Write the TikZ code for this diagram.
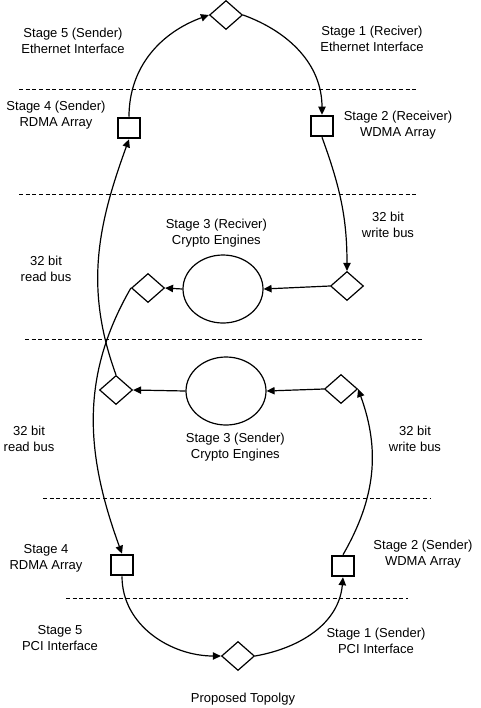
\documentclass[tikz,border=0pt]{standalone}
\usepackage{fontspec}
\setmainfont{Liberation Sans}
\usetikzlibrary{positioning,shapes.geometric,arrows.meta}

\begin{document}
\begin{tikzpicture}[
        x=0.75pt, y=-0.75pt,
        >={Triangle[length=6pt,width=5.5pt]},
        port/.style={diamond, draw, line width=0.9pt, inner sep=0pt, minimum width=24.75pt, minimum height=21.75pt},
        dma/.style={rectangle, draw, line width=1.4pt, inner sep=0pt, minimum width=16.5pt, minimum height=15.5pt},
        engine/.style={ellipse, draw, line width=0.9pt, inner sep=0pt, minimum width=60pt, minimum height=51pt},
        stagetext/.style={font=\fontsize{9.75}{12}\selectfont, align=center},
        bus/.style={->, line width=0.9pt},
        divider/.style={line width=0.7pt, dash pattern=on 3pt off 2pt}
    ]
        \useasboundingbox (0,0) rectangle (480,708);

        % Stage boundaries
        \foreach \y/\a/\b in {89/19/418, 194/19/418, 339/25/423, 498/43/430, 598/66/408}
            \draw[divider] (\a,\y) -- (\b,\y);

        % Receiver side
        \node[port] (ethTop) at (226,15) {};
        \node[dma] (rdmaS) at (129,128) {};
        \node[dma] (wdmaR) at (322,126) {};
        \node[port] (inR) at (347,286) {};
        \node[engine] (cryptoR) at (223,289) {};
        \node[port] (outR) at (148,288) {};

        % Sender side
        \node[port] (outS) at (116,390) {};
        \node[engine] (cryptoS) at (226,391) {};
        \node[port] (inS) at (341,389) {};
        \node[dma] (rdmaB) at (122,565) {};
        \node[dma] (wdmaS) at (343,566) {};
        \node[port] (pciB) at (238,656) {};

        % Labels
        \node[stagetext] (lblEthS) at (73,41) {Stage 5 (Sender)\\Ethernet Interface};
        \node[stagetext] (lblEthR) at (372,39) {Stage 1 (Reciver)\\Ethernet Interface};
        \node[stagetext] (lblRdmaS) at (56,115) {Stage 4 (Sender)\\RDMA Array};
        \node[stagetext] (lblWdmaR) at (398,125) {Stage 2 (Receiver)\\WDMA Array};
        \node[stagetext] (lblWrR) at (388,225) {32 bit\\write bus};
        \node[stagetext, above=2pt of cryptoR, xshift=-5pt] (lblCryR) {Stage 3 (Reciver)\\Crypto Engines};
        \node[stagetext] (lblRdR) at (46,269) {32 bit\\read bus};
        \node[stagetext, below=2pt of cryptoS, xshift=7pt] (lblCryS) {Stage 3 (Sender)\\Crypto Engines};
        \node[stagetext] (lblRdS) at (29,439) {32 bit\\read bus};
        \node[stagetext] (lblWrS) at (415,439) {32 bit\\write bus};
        \node[stagetext] (lblRdmaB) at (46,558) {Stage 4\\RDMA Array};
        \node[stagetext] (lblWdmaS) at (423,554) {Stage 2 (Sender)\\WDMA Array};
        \node[stagetext] (lblPciS) at (60,638) {Stage 5\\PCI Interface};
        \node[stagetext] (lblPciR) at (376,641) {Stage 1 (Sender)\\PCI Interface};
        \node[stagetext] (title) at (243,699) {Proposed Topolgy};

        % Data path
        \draw[bus] (rdmaS.north) to[out=90, in=200] (ethTop.west);
        \draw[bus] (ethTop.east) to[out=-20, in=90] (wdmaR.north);
        \draw[bus] (wdmaR.south) to[out=-70, in=90] (inR.north);
        \draw[bus] (inR.west) -- (cryptoR.east);
        \draw[bus] (cryptoR.west) -- (outR.east);
        \draw[bus] (outR.west) to[out=240, in=110] (rdmaB.north);
        \draw[bus] (outS.north) to[out=110, in=250] (rdmaS.south);
        \draw[bus] (cryptoS.west) -- (outS.east);
        \draw[bus] (inS.west) -- (cryptoS.east);
        \draw[bus] (wdmaS.north) to[out=60, in=-70] (inS.east);
        \draw[bus] (rdmaB.south) to[out=-90, in=180] (pciB.west);
        \draw[bus] (pciB.east) to[out=10, in=-95] (wdmaS.south);

    \end{tikzpicture}
\end{document}
